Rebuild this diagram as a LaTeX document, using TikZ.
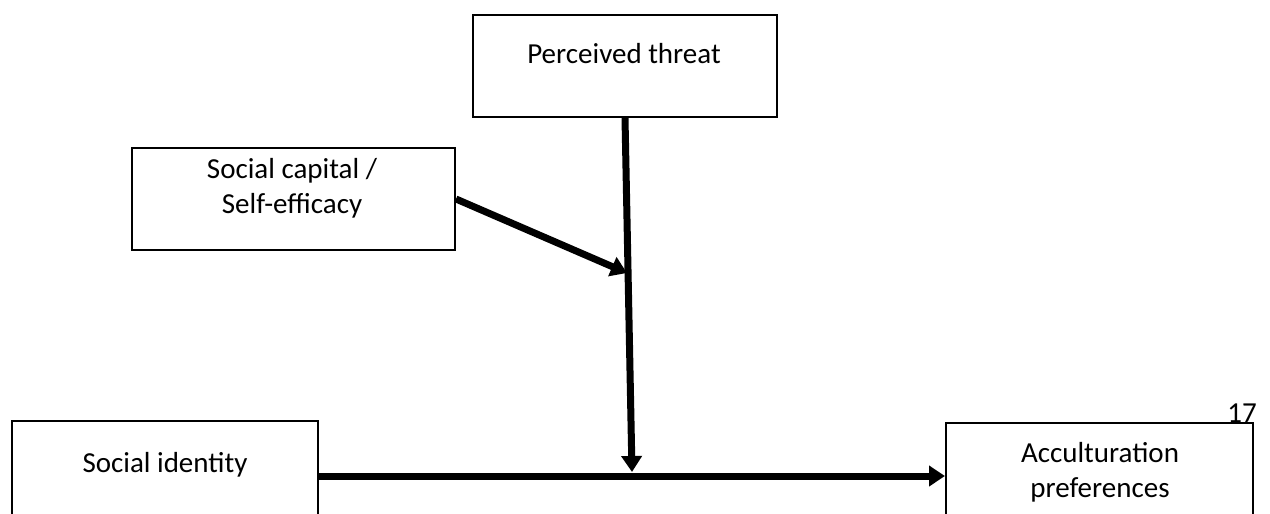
\documentclass[tikz,border=0pt]{standalone}
\usepackage{fontspec}
\setmainfont{Carlito}
\usetikzlibrary{arrows.meta}
\begin{document}
\begin{tikzpicture}[x=1pt,y=-1pt,
  box/.style={draw, line width=2pt, inner sep=0pt},
  lbl/.style={font=\fontsize{29}{35}\selectfont, inner sep=0pt, align=center},
  arr/.style={line width=7pt, -{Triangle[length=16pt,width=20pt]}},
  plain/.style={line width=7pt}]
\path[use as bounding box] (0,0) rectangle (1270,514);
\begin{scope}
\clip (0,0) rectangle (1270,514);
% boxes
\node[box, minimum width=304pt, minimum height=102pt] (pt) at (625,66) {};
\node[box, minimum width=323pt, minimum height=102pt] (sc) at (293.5,199) {};
\node[box, minimum width=306pt, minimum height=140pt] (si) at (165,491) {};
\node[box, minimum width=307pt, minimum height=140pt] (ap) at (1099.5,493) {};
% labels
\node[lbl, anchor=base] (ptl) at (624,63) {Perceived threat};
\node[lbl] (scl) at (292,188) {Social capital /\\Self-efficacy};
\node[lbl, anchor=base] (sil) at (165,472) {Social identity};
\node[lbl] (apl) at (1100,472) {Acculturation\\preferences};
\node[lbl, anchor=base east] (pg) at (1257,422) {17};
% connector points
\coordinate (m1) at (627,273);
\coordinate (m2) at (632,472);
\coordinate (hy) at (632,476);
% connectors
\draw[arr] (pt.south) -- (m2);
\draw[arr] (sc.east) -- (m1);
\draw[arr] (si.east |- hy) -- (ap.west |- hy);
\end{scope}
\end{tikzpicture}
\end{document}
